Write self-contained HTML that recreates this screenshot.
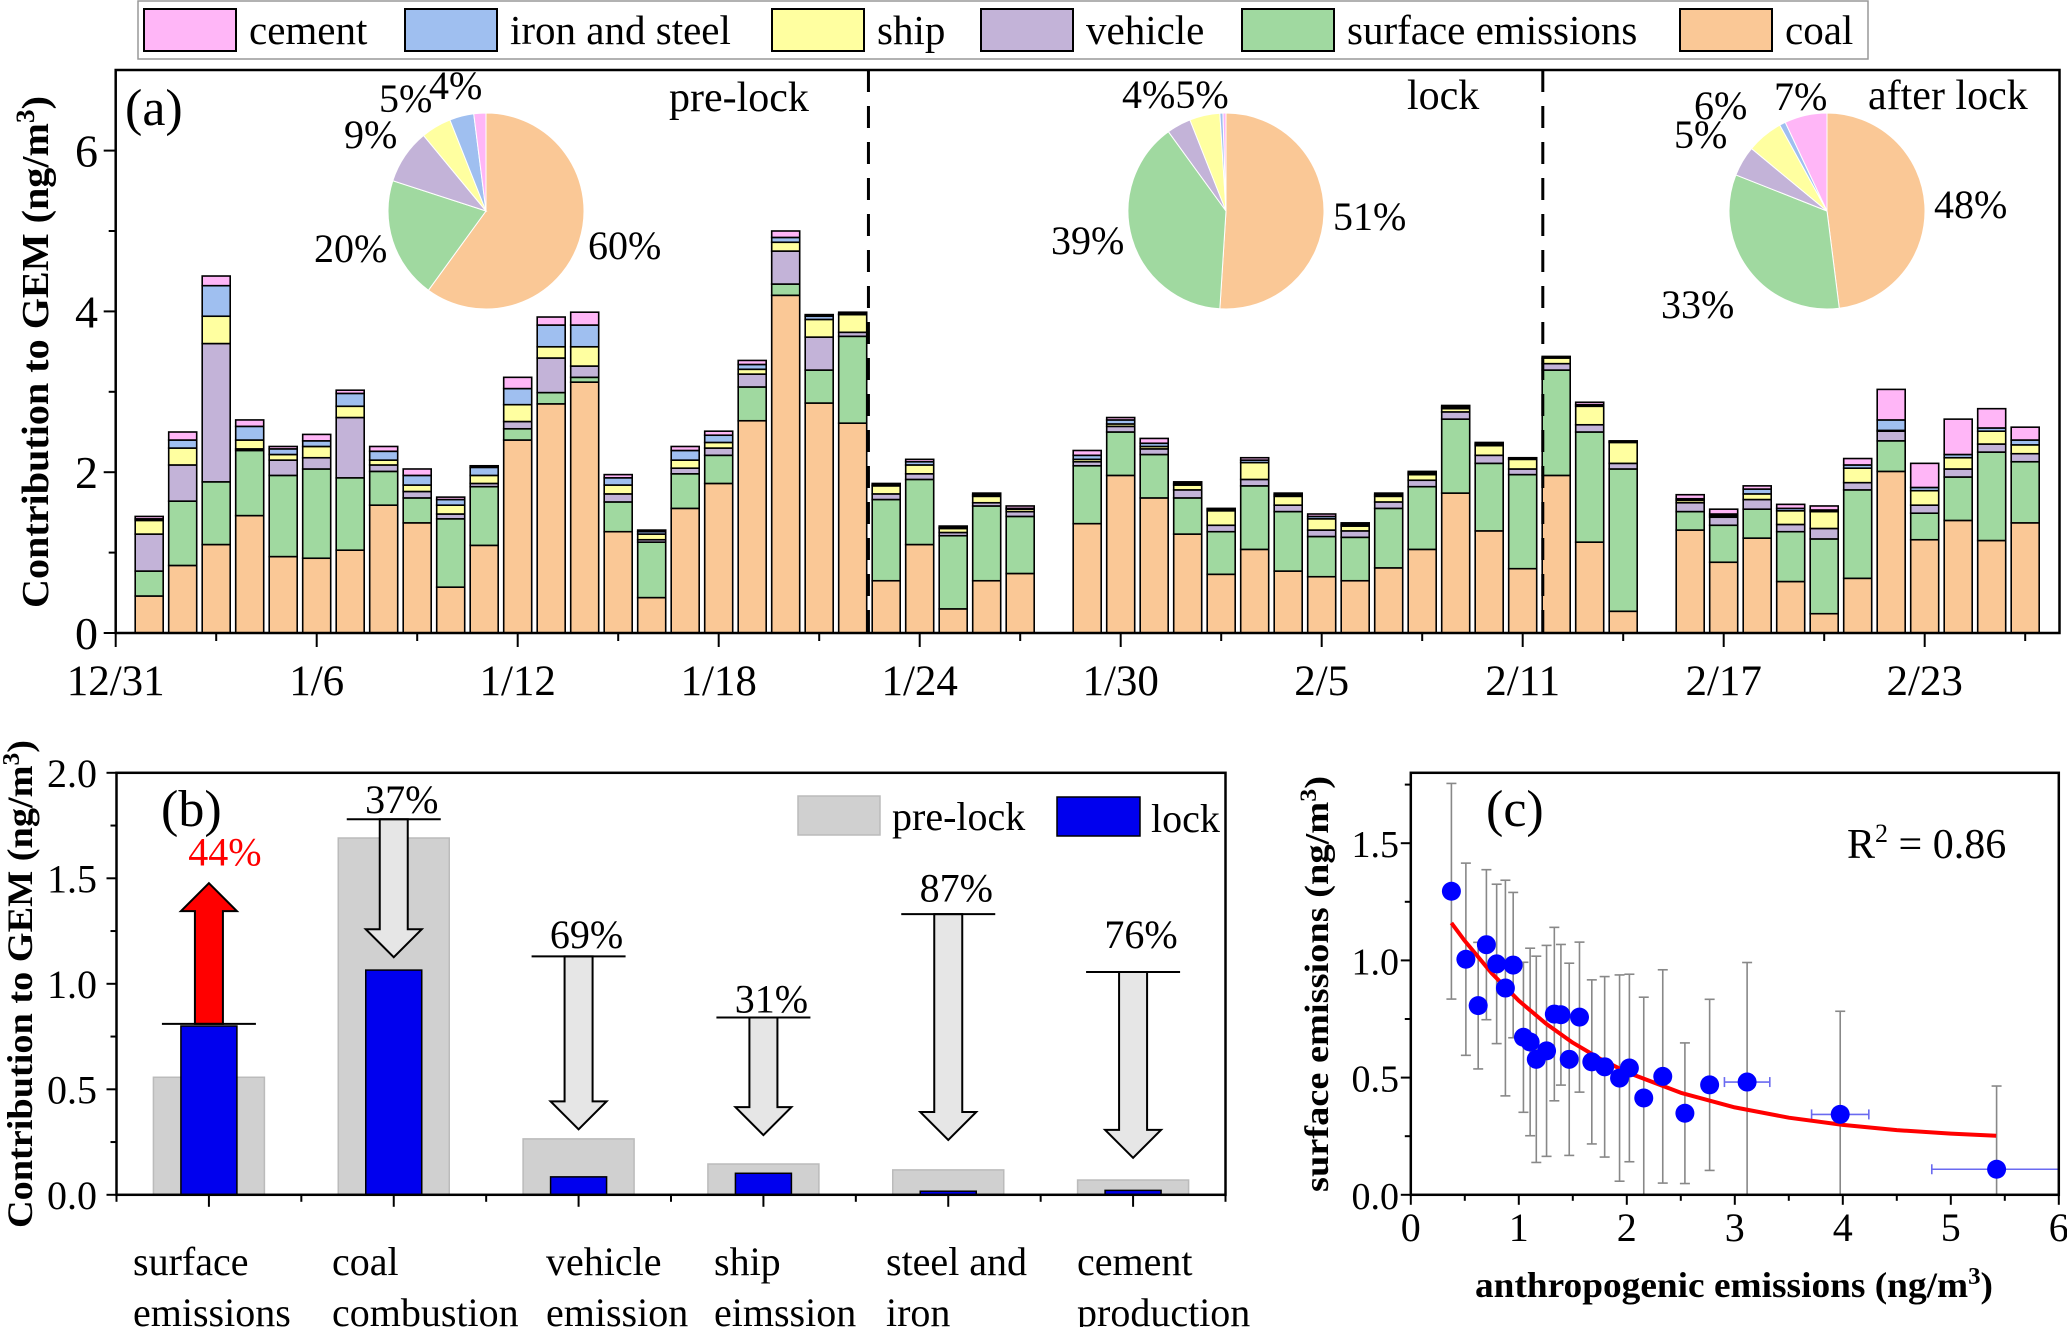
<!DOCTYPE html>
<html><head><meta charset="utf-8"><style>
html,body{margin:0;padding:0;background:#fff;}
svg{display:block;font-family:"Liberation Serif",serif;}
</style></head><body>
<svg id="fig" xmlns="http://www.w3.org/2000/svg" width="2067" height="1327" viewBox="0 0 2067 1327">
<g id="legendA"></g>
<g id="panelA"></g>
<g id="panelB"></g>
<g id="panelC"></g>
</svg>
<script>
// ---------- Panel (a) data ----------
const dayIdx = [1,2,3,4,5,6,7,8,9,10,11,12,13,14,15,16,17,18,19,20,21,22,23,24,25,26,27,29,30,31,32,33,34,35,36,37,38,39,40,41,42,43,44,45,47,48,49,50,51,52,53,54,55,56,57];
const coalVals = [.46,.84,1.10,1.46,.95,.93,1.03,1.59,1.37,.57,1.09,2.40,2.85,3.12,1.26,.44,1.55,1.86,2.64,4.20,2.86,2.61,.65,1.10,.30,.65,.74,1.36,1.96,1.68,1.23,.73,1.04,.77,.70,.65,.81,1.04,1.74,1.27,.80,1.96,1.13,.27,1.28,.88,1.18,.64,.24,.68,2.01,1.16,1.40,1.15,1.37];
const surfaceVals = [.31,.80,.78,.81,1.01,1.11,.90,.42,.31,.85,.73,.14,.14,.06,.37,.69,.43,.35,.42,.14,.41,1.08,1.01,.81,.91,.93,.71,.72,.54,.54,.45,.53,.79,.74,.50,.54,.74,.78,.92,.84,1.17,1.31,1.37,1.77,.23,.46,.36,.62,.93,1.10,.38,.33,.54,1.10,.76];
const vehicleVals = [.46,.45,1.72,.02,.19,.14,.75,.08,.08,.06,.04,.09,.43,.14,.10,.03,.07,.09,.16,.41,.41,.05,.07,.07,.04,.04,.06,.05,.07,.07,.10,.08,.08,.08,.08,.08,.08,.08,.09,.10,.07,.08,.09,.07,.11,.10,.12,.09,.13,.09,.12,.10,.10,.10,.10];
const shipVals = [.17,.21,.34,.11,.07,.14,.14,.06,.08,.11,.10,.21,.14,.24,.11,.07,.10,.07,.06,.11,.22,.22,.10,.11,.05,.08,.03,.03,.03,.03,.06,.18,.21,.11,.14,.06,.07,.07,.04,.12,.12,.07,.23,.26,.03,.02,.07,.17,.21,.18,.01,.18,.14,.16,.11];
const ironVals = [.02,.10,.38,.17,.07,.07,.16,.11,.12,.07,.10,.20,.27,.27,.09,.03,.12,.09,.06,.06,.04,.01,.01,.04,.01,.02,.01,.05,.05,.04,.02,.02,.03,.02,.03,.02,.02,.02,.02,.02,.01,.01,.02,.01,.02,.02,.06,.03,.02,.04,.13,.04,.04,.04,.06];
const cementVals = [.03,.10,.12,.08,.03,.08,.04,.06,.08,.03,.02,.14,.10,.16,.04,.02,.05,.05,.05,.08,.02,.02,.02,.03,.02,.02,.03,.06,.03,.06,.02,.01,.03,.02,.03,.02,.02,.02,.02,.02,.01,.01,.03,.01,.05,.06,.04,.05,.05,.08,.38,.30,.44,.24,.16];
const xTickLabels = ["12/31","1/6","1/12","1/18","1/24","1/30","2/5","2/11","2/17","2/23"];
const yTicksA = [0,2,4,6];
const piePre = [60,20,9,5,4,2];
const pieLock = [51,39,4,5,0.5,0.5];
const pieAfter = [48,33,5,6,1,7];

// ---------- Panel (b) data ----------
const bCats = [["surface","emissions"],["coal","combustion"],["vehicle","emission"],["ship","eimssion"],["steel and","iron"],["cement","production"]];
const bPre = [0.557,1.691,0.265,0.146,0.118,0.070];
const bLock = [0.80,1.065,0.085,0.102,0.017,0.021];
const bArrowFrom = [0.81,1.78,1.13,0.84,1.33,1.056];
const bArrowTip = [1.477,1.126,0.31,0.283,0.26,0.175];
const bPct = ["44%","37%","69%","31%","87%","76%"];
const bPctY = [1.56,1.81,1.17,0.865,1.39,1.17];
const bYTicks = [0,0.5,1.0,1.5,2.0];

// ---------- Panel (c) data ----------
const cX = [0.376,0.51,0.624,0.70,0.795,0.876,0.948,1.043,1.105,1.162,1.257,1.329,1.39,1.467,1.562,1.676,1.795,1.933,2.024,2.157,2.333,2.538,2.767,3.114,3.976,5.424];
const cY = [1.295,1.005,0.807,1.067,0.985,0.882,0.98,0.672,0.652,0.578,0.614,0.771,0.768,0.578,0.758,0.567,0.546,0.498,0.541,0.413,0.505,0.348,0.469,0.481,0.343,0.109];
const cYErr = [0.46,0.41,0.27,0.32,0.34,0.46,0.31,0.32,0.40,0.44,0.45,0.37,0.30,0.41,0.32,0.35,0.385,0.44,0.40,0.43,0.455,0.30,0.365,0.51,0.44,0.355];
const cXErr = [0,0,0,0,0,0,0,0,0,0,0,0,0,0,0,0,0,0,0,0,0,0,0,0.21,0.265,0.6];
const fitX = [0.376,0.5,0.75,1.0,1.25,1.5,1.75,2.0,2.5,3.0,3.5,4.0,4.5,5.0,5.42];
const fitY = [1.16,1.083,0.945,0.828,0.731,0.649,0.581,0.523,0.435,0.373,0.329,0.298,0.276,0.261,0.252];
const cXTicks = [0,1,2,3,4,5,6];
const cYTicks = [0,0.5,1.0,1.5];

const NS = "http://www.w3.org/2000/svg";
function mk(parent, tag, attrs, txt){
  const e = document.createElementNS(NS, tag);
  for (const k in attrs) e.setAttribute(k, attrs[k]);
  if (txt !== undefined) e.textContent = txt;
  parent.appendChild(e);
  return e;
}
const colors = ["#fac896","#a0d9a0","#c3b3d8","#ffffa0","#9fbff0","#ffb6f7"];
const series = [coalVals,surfaceVals,vehicleVals,shipVals,ironVals,cementVals];
const sNames = ["coal","surface","vehicle","ship","iron","cement"];

// ---------- Legend ----------
const L = document.getElementById("legendA");
let lb = mk(L,"rect",{x:138,y:1,width:1730,height:58,fill:"#fff",stroke:"#999","stroke-width":1.5});


const legItems = [["cement",144,5],["iron and steel",405,4],["ship",772,3],["vehicle",981,2],["surface emissions",1242,1],["coal",1680,0]];
legItems.forEach(it=>{
  const g = mk(L,"g",{});
  
  
  mk(g,"rect",{x:it[1],y:9,width:92,height:42,fill:colors[it[2]],stroke:"#000","stroke-width":2});
  mk(g,"text",{x:it[1]+105,y:44,"font-size":41},it[0]);
});

// ---------- Panel (a) ----------
const A = document.getElementById("panelA");
const aL=115.7,aT=70,aR=2059.5,aB=633;
const xA = d => aL + 33.5*d;
const yA = v => aB - 80.4*v;
const barsG = mk(A,"g",{});


dayIdx.forEach((d,i)=>{
  let cum = 0;
  const g = mk(barsG,"g",{});
  
  
  series.forEach((s,k)=>{
    const v = s[i];
    const r = mk(g,"rect",{x:xA(d)-14,y:yA(cum+v),width:28,height:Math.max(80.4*v,0.01),fill:colors[k],stroke:"#000","stroke-width":1.6});
    
    
    cum += v;
  });
});
[22.47,42.6].forEach((d,i)=>{
  const l = mk(A,"line",{x1:xA(d),x2:xA(d),y1:aT,y2:aB,stroke:"#000","stroke-width":3,"stroke-dasharray":"22,14"});
  
  
});
let fa = mk(A,"rect",{x:aL,y:aT,width:aR-aL,height:aB-aT,fill:"none",stroke:"#000","stroke-width":2.5});


for(let d=0; d<=57; d+=3){
  const major = d%6===0;
  mk(A,"line",{x1:xA(d),x2:xA(d),y1:aB,y2:aB+(major?14:8),stroke:"#000","stroke-width":2});
}
xTickLabels.forEach((t,i)=>{
  const e = mk(A,"text",{x:xA(i*6),y:695,"font-size":43,"text-anchor":"middle"},t);
  
  
});
yTicksA.forEach(v=>{
  mk(A,"line",{x1:aL-12,x2:aL,y1:yA(v),y2:yA(v),stroke:"#000","stroke-width":2});
  const e = mk(A,"text",{x:98,y:yA(v)+16,"font-size":46,"text-anchor":"end"},String(v));
  
  
});
[1,3,5].forEach(v=>mk(A,"line",{x1:aL-7,x2:aL,y1:yA(v),y2:yA(v),stroke:"#000","stroke-width":2}));
let yt = mk(A,"text",{transform:"translate(48,352) rotate(-90)","font-size":38,"font-weight":"bold","text-anchor":"middle",textLength:512,lengthAdjust:"spacingAndGlyphs"});


yt.innerHTML = 'Contribution to GEM (ng/m<tspan dy="-14" font-size="26">3</tspan><tspan dy="14">)</tspan>';
function txt(parent,name,x,y,s,size,extra){
  const e = mk(parent,"text",Object.assign({x:x,y:y,"font-size":size},extra||{}),s);
  
  
  return e;
}
txt(A,'panel-label-a',125,125,'(a)',52);
txt(A,'period-label-pre-lock',669,111,'pre-lock',42);
txt(A,'period-label-lock',1407,109,'lock',42);
txt(A,'period-label-after-lock',1868,109,'after lock',42);
function pie(cx,cy,r,vals,name){
  const g = mk(A,"g",{});
  
  
  const tot = vals.reduce((a,b)=>a+b,0);
  let a0 = -Math.PI/2;
  vals.forEach((v,k)=>{
    const a1 = a0 + 2*Math.PI*v/tot;
    const large = (a1-a0)>Math.PI?1:0;
    const p = mk(g,"path",{d:`M${cx},${cy} L${cx+r*Math.cos(a0)},${cy+r*Math.sin(a0)} A${r},${r} 0 ${large} 1 ${cx+r*Math.cos(a1)},${cy+r*Math.sin(a1)} Z`,fill:colors[k],stroke:"#fff","stroke-width":1});
    
    
    a0 = a1;
  });
}
pie(486,211,98,piePre,'pie-pre-lock');
pie(1226,211,98,pieLock,'pie-lock');
pie(1827,211,98,pieAfter,'pie-after-lock');
[["60%",588,259],["20%",314,262],["9%",344,148],["5%",379,112],["4%",429,99],
 ["4%5%",1122,108],["51%",1333,230],["39%",1051,254],
 ["6%",1694,119],["5%",1674,148],["7%",1774,110],["48%",1934,218],["33%",1661,318]].forEach(p=>txt(A,'pie-percent-label',p[1],p[2],p[0],40));

// ---------- Panel (b) ----------
const B = document.getElementById("panelB");
const bL=116.5,bT=772.8,bR=1225.5,bB=1194.8;
const slot = (bR-bL)/6;
const xB = i => bL + slot*(i+0.5);
const yB = v => bB - 211*v;
bPre.forEach((v,i)=>{
  const r = mk(B,"rect",{x:xB(i)-55.5,y:yB(v),width:111,height:bB-yB(v),fill:"#d0d0d0",stroke:"#bbb","stroke-width":1.5});
  
  
});
bLock.forEach((v,i)=>{
  const r = mk(B,"rect",{x:xB(i)-28,y:yB(v),width:56,height:bB-yB(v),fill:"#0000ee",stroke:"#000","stroke-width":1.5});
  
  
});
bArrowFrom.forEach((f,i)=>{
  const cx = xB(i), y0 = yB(f), y1 = yB(bArrowTip[i]);
  const up = y1 < y0;
  const dir = up?-1:1, hl = 28, sw = 14, hw = 28;
  const yh = y1 - dir*hl;
  const pts = [[cx-sw,y0],[cx-sw,yh],[cx-hw,yh],[cx,y1],[cx+hw,yh],[cx+sw,yh],[cx+sw,y0]].map(p=>p.join(',')).join(' ');
  const a = mk(B,"polygon",{points:pts,fill:up?"#ff0000":"#e6e6e6",stroke:"#000","stroke-width":2});
  
  
  const l = mk(B,"line",{x1:cx-47,x2:cx+47,y1:y0,y2:y0,stroke:"#000","stroke-width":2});
  
  
  txt(B,'percent-change-label',cx+(i===0?16:8),yB(bPctY[i]),bPct[i],40,{"text-anchor":"middle",fill:i===0?"#ff0000":"#000"});
});
let fb = mk(B,"rect",{x:bL,y:bT,width:bR-bL,height:bB-bT,fill:"none",stroke:"#000","stroke-width":2.5});


for(let k=0;k<=6;k++) mk(B,"line",{x1:bL+slot*k,x2:bL+slot*k,y1:bB,y2:bB+7,stroke:"#000","stroke-width":2});
for(let k=0;k<6;k++) mk(B,"line",{x1:xB(k),x2:xB(k),y1:bB,y2:bB+12,stroke:"#000","stroke-width":2});
bYTicks.forEach(v=>{
  mk(B,"line",{x1:bL-10,x2:bL,y1:yB(v),y2:yB(v),stroke:"#000","stroke-width":2});
  if (v < 2) mk(B,"line",{x1:bL-6,x2:bL,y1:yB(v+0.25),y2:yB(v+0.25),stroke:"#000","stroke-width":2});
  txt(B,'y-tick-label',97,yB(v)+14,v.toFixed(1),40,{"text-anchor":"end"});
});
bCats.forEach((c,i)=>{
  const xs = [133,332,546,714,886,1077];
  txt(B,'category-label',xs[i],1275,c[0],40);
  txt(B,'category-label',xs[i],1326,c[1],40);
});
txt(B,'panel-label-b',161,826,'(b)',52);
let lg1 = mk(B,"rect",{x:798,y:796,width:82,height:39,fill:"#d0d0d0",stroke:"#bbb","stroke-width":1.5});


txt(B,'legend-label-pre-lock',892,830,'pre-lock',40);
let lg2 = mk(B,"rect",{x:1057,y:797,width:83,height:39,fill:"#0000ee",stroke:"#000","stroke-width":1.5});


txt(B,'legend-label-lock',1151,832,'lock',40);
let ytb = mk(B,"text",{transform:"translate(32,984) rotate(-90)","font-size":36,"font-weight":"bold","text-anchor":"middle",textLength:488,lengthAdjust:"spacingAndGlyphs"});


ytb.innerHTML = 'Contribution to GEM (ng/m<tspan dy="-13" font-size="24">3</tspan><tspan dy="13">)</tspan>';

// ---------- Panel (c) ----------
const C = document.getElementById("panelC");
const cL=1410.8,cT=772.8,cR=2058.8,cB=1194.8;
const xC = v => cL + 108*v;
const yC = v => cB - 234.4*v;
const clipY = y => Math.min(Math.max(y,cT),cB);
const clipX = x => Math.min(Math.max(x,cL),cR);
cX.forEach((x,i)=>{
  const g = mk(C,"g",{});
  
  
  const px = xC(x), ytop = clipY(yC(cY[i]+cYErr[i])), ybot = clipY(yC(cY[i]-cYErr[i]));
  mk(g,"line",{x1:px,x2:px,y1:ytop,y2:ybot,stroke:"#888","stroke-width":1.6});
  if (yC(cY[i]+cYErr[i])>=cT) mk(g,"line",{x1:px-5,x2:px+5,y1:ytop,y2:ytop,stroke:"#888","stroke-width":1.6});
  if (yC(cY[i]-cYErr[i])<=cB) mk(g,"line",{x1:px-5,x2:px+5,y1:ybot,y2:ybot,stroke:"#888","stroke-width":1.6});
  if (cXErr[i]>0){
    const xl = clipX(xC(x-cXErr[i])), xr = clipX(xC(x+cXErr[i])), py=yC(cY[i]);
    mk(g,"line",{x1:xl,x2:xr,y1:py,y2:py,stroke:"#6a6af0","stroke-width":1.6});
    mk(g,"line",{x1:xl,x2:xl,y1:py-5,y2:py+5,stroke:"#6a6af0","stroke-width":1.6});
    if (xC(x+cXErr[i])<=cR) mk(g,"line",{x1:xr,x2:xr,y1:py-5,y2:py+5,stroke:"#6a6af0","stroke-width":1.6});
  }
});
const fitPts = fitX.map((x,i)=>xC(x).toFixed(1)+','+yC(fitY[i]).toFixed(1)).join(' ');
let fl = mk(C,"polyline",{points:fitPts,fill:"none",stroke:"#ff0000","stroke-width":4,"stroke-linejoin":"round"});


cX.forEach((x,i)=>{
  const p = mk(C,"ellipse",{cx:xC(x),cy:yC(cY[i]),rx:9.5,ry:9.5,fill:"#0000ff"});
  
  
});
let fc = mk(C,"rect",{x:cL,y:cT,width:cR-cL,height:cB-cT,fill:"none",stroke:"#000","stroke-width":2.5});


cXTicks.forEach(v=>{
  mk(C,"line",{x1:xC(v),x2:xC(v),y1:cB,y2:cB+10,stroke:"#000","stroke-width":2});
  if (v<6) mk(C,"line",{x1:xC(v+0.5),x2:xC(v+0.5),y1:cB,y2:cB+6,stroke:"#000","stroke-width":2});
  txt(C,'x-tick-label',xC(v),1241,String(v),40,{"text-anchor":"middle"});
});
cYTicks.forEach(v=>{
  mk(C,"line",{x1:cL-10,x2:cL,y1:yC(v),y2:yC(v),stroke:"#000","stroke-width":2});
  mk(C,"line",{x1:cL-6,x2:cL,y1:yC(v+0.25),y2:yC(v+0.25),stroke:"#000","stroke-width":2});
  txt(C,'y-tick-label',1399,yC(v)+14,v.toFixed(1),38,{"text-anchor":"end"});
});
txt(C,'panel-label-c',1486,826,'(c)',52);
let r2 = mk(C,"text",{x:1847,y:858,"font-size":42});


r2.innerHTML = 'R<tspan dy="-16" font-size="26">2</tspan><tspan dy="16"> = 0.86</tspan>';
let xtc = mk(C,"text",{x:1734,y:1297,"font-size":36,"font-weight":"bold","text-anchor":"middle",textLength:518,lengthAdjust:"spacingAndGlyphs"});


xtc.innerHTML = 'anthropogenic emissions (ng/m<tspan dy="-13" font-size="24">3</tspan><tspan dy="13">)</tspan>';
let ytc = mk(C,"text",{transform:"translate(1328,984) rotate(-90)","font-size":34,"font-weight":"bold","text-anchor":"middle",textLength:416,lengthAdjust:"spacingAndGlyphs"});


ytc.innerHTML = 'surface emissions (ng/m<tspan dy="-12" font-size="23">3</tspan><tspan dy="12">)</tspan>';
</script>
</body></html>
